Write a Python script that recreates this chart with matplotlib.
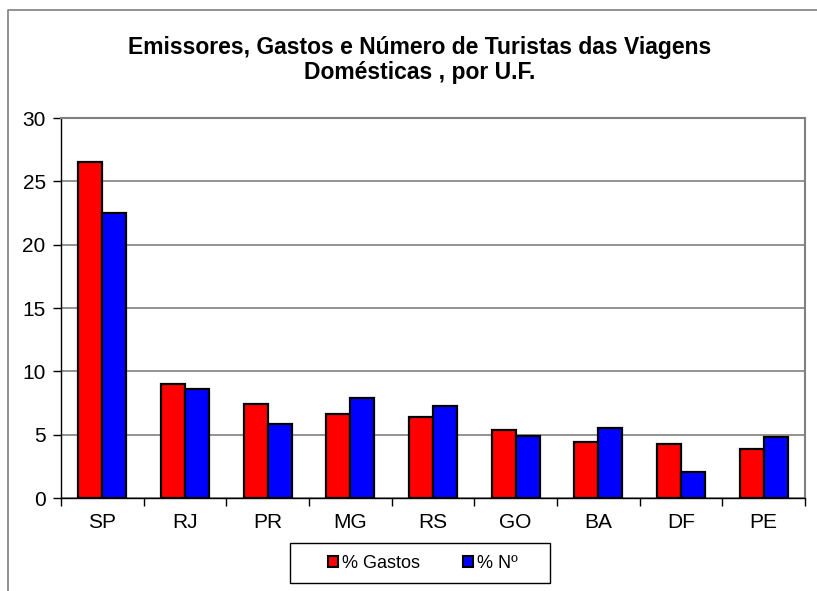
import numpy as np
import matplotlib.pyplot as plt
from matplotlib.lines import Line2D
from matplotlib.patches import Rectangle

estados = ['SP', 'RJ', 'PR', 'MG', 'RS', 'GO', 'BA', 'DF', 'PE']
gastos = [26.5, 9.0, 7.4, 6.6, 6.4, 5.4, 4.4, 4.25, 3.85]
numero = [22.5, 8.6, 5.85, 7.9, 7.3, 4.9, 5.55, 2.05, 4.85]
y_ticks = [0, 5, 10, 15, 20, 25, 30]

plt.rcParams['font.family'] = ['Liberation Sans', 'DejaVu Sans']

W, H = 817, 591
fig = plt.figure(figsize=(W / 100, H / 100), dpi=100)

# moldura da área do gráfico (só esquerda e topo aparecem)
fig.lines.append(Line2D([8 / W, 8 / W, 1.0], [0, 1 - 10 / H, 1 - 10 / H], transform=fig.transFigure,
                        color='#808080', linewidth=1.2))

ax = fig.add_axes([61 / W, 1 - 498 / H, 744 / W, 380 / H])

x = np.arange(len(estados))
w = 0.29
ax.bar(x - w / 2, gastos, w, color='#ff0000', edgecolor='black', linewidth=1.6, label='% Gastos', zorder=3)
ax.bar(x + w / 2, numero, w, color='#0000ff', edgecolor='black', linewidth=1.6, label='% Nº', zorder=3)

ax.set_xlim(-0.5, len(estados) - 0.5)
ax.set_ylim(0, 30)
ax.set_yticks(y_ticks)
ax.set_xticks(x)
ax.set_xticklabels(estados)
ax.set_xticks(np.arange(len(estados) + 1) - 0.5, minor=True)
ax.tick_params(axis='x', which='major', length=0, labelsize=15, pad=11)
ax.tick_params(axis='x', which='minor', length=6, width=1, direction='out')
ax.tick_params(axis='y', length=6, width=1, direction='out', labelsize=15, pad=5)
ax.yaxis.grid(True, color='#808080', linewidth=1.2, zorder=0)

for s in ['top', 'right']:
    ax.spines[s].set_color('#808080')
    ax.spines[s].set_linewidth(1.5)
for s in ['left', 'bottom']:
    ax.spines[s].set_color('black')
    ax.spines[s].set_linewidth(1)

fig.text(420 / W, 1 - 60 / H, 'Emissores, Gastos e Número de Turistas das Viagens\nDomésticas , por U.F.',
         ha='center', va='center', fontsize=16.5, fontweight='bold', linespacing=1.1)

# caixa da legenda
fig.patches.append(Rectangle((290 / W, 1 - 583 / H), 260 / W, 40 / H, transform=fig.transFigure,
                             fill=False, edgecolor='black', linewidth=1))
leg = fig.legend(loc='center', bbox_to_anchor=(423 / W, 1 - 563 / H), ncol=2, frameon=False,
                 fontsize=13, handlelength=0.55, handleheight=0.55,
                 handletextpad=0.2, columnspacing=2.4, borderpad=0, borderaxespad=0)
for p in leg.get_patches():
    p.set_linewidth(1.5)

fig.savefig('out.png', dpi=100)
